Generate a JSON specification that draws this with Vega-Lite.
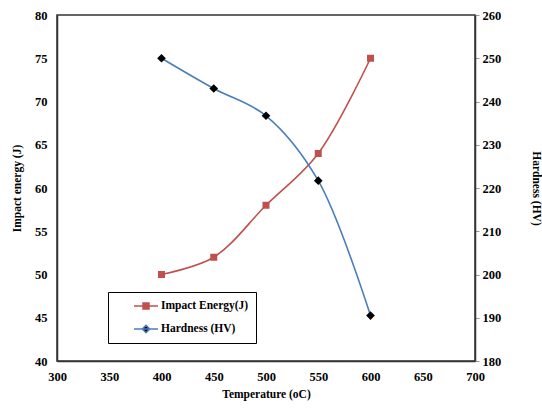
{
  "$schema": "https://vega.github.io/schema/vega-lite/v6.json",
  "width": 418,
  "height": 346,
  "autosize": {"type": "none"},
  "padding": {"left": 57, "top": 15, "right": 67, "bottom": 49},
  "background": "white",
  "config": {
    "view": {"stroke": "#333333", "strokeWidth": 1.5},
    "font": "Liberation Serif",
    "axis": {
      "grid": false,
      "labelFont": "Liberation Serif",
      "labelFontWeight": "bold",
      "labelFontSize": 12.5,
      "labelColor": "black",
      "labelFlush": false,
      "titleFont": "Liberation Serif",
      "titleFontWeight": "bold",
      "titleFontSize": 11.5,
      "titleColor": "black",
      "domainColor": "#333333",
      "domainWidth": 1.5
    },
    "legend": {
      "labelFont": "Liberation Serif",
      "labelFontWeight": "bold",
      "labelFontSize": 11.5,
      "labelColor": "black"
    }
  },
  "data": {
    "values": [
      {"t": 400, "s": "Impact Energy(J)", "v": 50},
      {"t": 450, "s": "Impact Energy(J)", "v": 52},
      {"t": 500, "s": "Impact Energy(J)", "v": 58},
      {"t": 550, "s": "Impact Energy(J)", "v": 64},
      {"t": 600, "s": "Impact Energy(J)", "v": 75},
      {"t": 400, "s": "Hardness (HV)", "v": 250},
      {"t": 450, "s": "Hardness (HV)", "v": 243},
      {"t": 500, "s": "Hardness (HV)", "v": 236.7},
      {"t": 550, "s": "Hardness (HV)", "v": 221.7},
      {"t": 600, "s": "Hardness (HV)", "v": 190.5}
    ]
  },
  "encoding": {
    "x": {
      "field": "t",
      "type": "quantitative",
      "scale": {"domain": [300, 700], "nice": false},
      "axis": {
        "values": [300, 350, 400, 450, 500, 550, 600, 650, 700],
        "title": "Temperature (oC)",
        "ticks": false,
        "labelPadding": 9,
        "titlePadding": 6
      }
    }
  },
  "layer": [
    {
      "transform": [{"filter": "datum.s === 'Impact Energy(J)'"}],
      "encoding": {
        "y": {
          "field": "v",
          "type": "quantitative",
          "scale": {"domain": [40, 80], "nice": false, "zero": false},
          "axis": {
            "orient": "left",
            "values": [40, 45, 50, 55, 60, 65, 70, 75, 80],
            "title": "Impact energy (J)",
            "ticks": false,
            "labelPadding": 10,
            "titlePadding": 12
          }
        }
      },
      "layer": [
        {
          "mark": {"type": "line", "interpolate": "catmull-rom", "strokeWidth": 1.6},
          "encoding": {
            "stroke": {
              "field": "s",
              "type": "nominal",
              "scale": {"domain": ["Impact Energy(J)", "Hardness (HV)"], "range": ["#C0504D", "#4A7EBB"]},
              "legend": {
                "orient": "none",
                "legendX": 51,
                "legendY": 277,
                "title": null,
                "strokeColor": "black",
                "fillColor": "white",
                "padding": 7,
                "symbolOffset": 24,
                "labelOffset": 8,
                "rowPadding": 10,
                "symbolSize": 144,
                "symbolStrokeWidth": 1.5,
                "labelExpr": "datum.label + '      '"
              }
            }
          }
        },
        {
          "mark": {"type": "point", "filled": true, "size": 196, "strokeWidth": 0, "opacity": 1},
          "encoding": {
            "fill": {
              "field": "s",
              "type": "nominal",
              "scale": {"domain": ["Impact Energy(J)", "Hardness (HV)"], "range": ["#C0504D", "black"]},
              "legend": {
                "orient": "none",
                "legendX": 51,
                "legendY": 277,
                "title": null
              }
            },
            "shape": {
              "field": "s",
              "type": "nominal",
              "scale": {"domain": ["Impact Energy(J)", "Hardness (HV)"], "range": ["M-2,0H2M-0.5,-0.5H0.5V0.5H-0.5Z", "M-2,0H2M0,-0.62L0.62,0L0,0.62L-0.62,0Z"]},
              "legend": {
                "orient": "none",
                "legendX": 51,
                "legendY": 277,
                "title": null
              }
            }
          }
        }
      ]
    },
    {
      "transform": [{"filter": "datum.s === 'Hardness (HV)'"}],
      "encoding": {
        "y": {
          "field": "v",
          "type": "quantitative",
          "scale": {"domain": [180, 260], "nice": false, "zero": false},
          "axis": {
            "orient": "right",
            "values": [180, 190, 200, 210, 220, 230, 240, 250, 260],
            "title": "Hardness (HV)",
            "ticks": true,
            "tickColor": "#999999",
            "tickSize": 4,
            "labelPadding": 3,
            "titlePadding": 30
          }
        }
      },
      "layer": [
        {
          "mark": {"type": "line", "interpolate": "catmull-rom", "strokeWidth": 1.6},
          "encoding": {
            "stroke": {"field": "s", "type": "nominal"}
          }
        },
        {
          "mark": {"type": "point", "filled": true, "size": 196, "strokeWidth": 0, "opacity": 1},
          "encoding": {
            "fill": {"field": "s", "type": "nominal"},
            "shape": {"field": "s", "type": "nominal"}
          }
        }
      ]
    }
  ],
  "resolve": {"scale": {"y": "independent"}}
}
